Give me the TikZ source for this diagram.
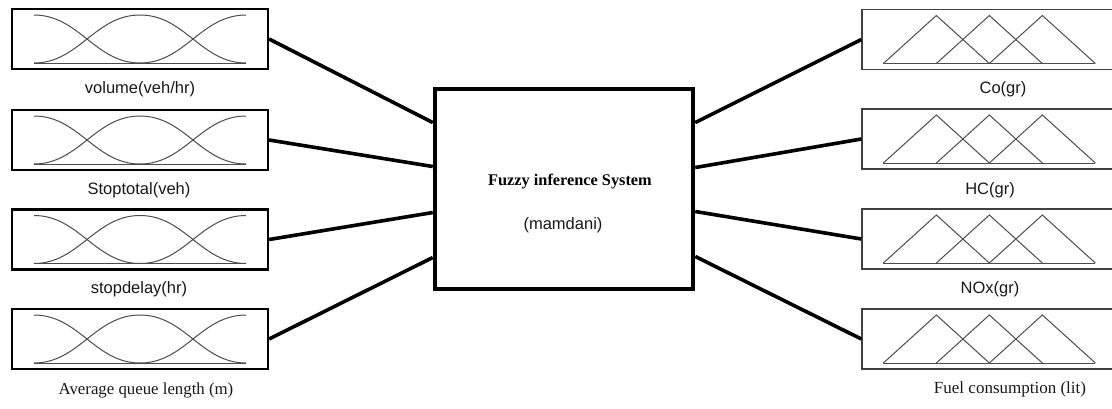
\documentclass[tikz,border=0pt]{standalone}
\usepackage{fontspec}
\setmainfont{Liberation Serif}
\setsansfont{Liberation Sans}
\usetikzlibrary{calc}

\tikzset{
  inbox/.style={draw=black, line width=2.2pt, minimum width=256pt, minimum height=60pt, inner sep=0pt},
  outbox/.style={draw=black!75, line width=1.3pt, minimum width=258pt, minimum height=60pt, inner sep=0pt},
  fisbox/.style={draw=black, line width=4.5pt, minimum width=258pt, minimum height=200pt, inner sep=0pt},
  link/.style={line width=3.6pt},
  mf/.style={draw=black!70, line width=1pt},
  sanslabel/.style={font=\sffamily\fontsize{16.5}{19}\selectfont, text=black!90, inner sep=0pt},
  seriflabel/.style={font=\rmfamily\fontsize{16.8}{19}\selectfont, text=black!90, inner sep=0pt}
}

% bell-shaped membership functions, drawn about the centre of an input box
\newcommand{\bellset}[1]{%
  \begin{scope}[shift={(#1.center)}]
    \draw[mf] (-106,-24) .. controls (-61,-24) and (-45,24) .. (0,24);
    \draw[mf] (-106,24) .. controls (-61,24) and (-45,-24) .. (0,-24)
                        .. controls (45,-24) and (61,24) .. (106,24);
    \draw[mf] (0,24) .. controls (45,24) and (61,-24) .. (106,-24);
    \draw[mf] (-106,24) -- (106,24);
  \end{scope}}

% triangular membership functions, drawn from the west side of an output box
\newcommand{\triset}[1]{%
  \begin{scope}[shift={(#1.west)}]
    \draw[mf] (22,24) -- (75,-24) -- (128,24);
    \draw[mf] (75,24) -- (128,-24) -- (181,24);
    \draw[mf] (128,24) -- (181,-24) -- (234,24);
    \draw[mf] (22,24) -- (234,24);
  \end{scope}}

\begin{document}
\begin{tikzpicture}[x=1pt, y=-1pt]
  \useasboundingbox (0,0) rectangle (1112,408);
  \clip (0,0) rectangle (1112,408);
  \fill[white] (0,0) rectangle (1112,408);

  % inference system
  \node[fisbox] (fis) at (564,189) {};
  \node[font=\rmfamily\bfseries\fontsize{16.3}{19}\selectfont, inner sep=0pt] (fistitle) at (570,182) {Fuzzy inference System};
  \node[sanslabel, font=\sffamily\fontsize{16.5}{19}\selectfont] (fistype) at (563,225) {(mamdani)};

  % inputs
  \node[inbox] (in1) at (140,39) {};
  \node[inbox] (in2) at (140,140) {};
  \node[inbox] (in3) at (140,239.5) {};
  \node[inbox] (in4) at (140,339) {};
  \bellset{in1}\bellset{in2}\bellset{in3}\bellset{in4}

  \node[sanslabel] (l1) at (140,89) {volume(veh/hr)};
  \node[sanslabel] (l2) at (139,190) {Stoptotal(veh)};
  \node[sanslabel] (l3) at (139,289) {stopdelay(hr)};
  \node[seriflabel] (l4) at (146,390) {Average queue length (m)};

  % outputs
  \node[outbox] (out1) at (991,39.5) {};
  \node[outbox] (out2) at (991,139) {};
  \node[outbox] (out3) at (991,239) {};
  \node[outbox] (out4) at (991,339) {};
  \triset{out1}\triset{out2}\triset{out3}\triset{out4}

  \node[sanslabel] (r1) at (1003,89) {Co(gr)};
  \node[sanslabel] (r2) at (990,190) {HC(gr)};
  \node[sanslabel] (r3) at (990,289) {NOx(gr)};
  \node[seriflabel, font=\rmfamily\fontsize{17}{19}\selectfont] (r4) at (1010,389) {Fuel consumption (lit)};

  % ports on the inference system
  \coordinate (pl1) at ($(fis.north west)!0.175!(fis.south west)$);
  \coordinate (pl2) at ($(fis.north west)!0.39!(fis.south west)$);
  \coordinate (pl3) at ($(fis.north west)!0.615!(fis.south west)$);
  \coordinate (pl4) at ($(fis.north west)!0.835!(fis.south west)$);
  \coordinate (pr1) at ($(fis.north east)!0.175!(fis.south east)$);
  \coordinate (pr2) at ($(fis.north east)!0.395!(fis.south east)$);
  \coordinate (pr3) at ($(fis.north east)!0.61!(fis.south east)$);
  \coordinate (pr4) at ($(fis.north east)!0.83!(fis.south east)$);

  % connectors
  \draw[link] (in1.east) -- (pl1);
  \draw[link] (in2.east) -- (pl2);
  \draw[link] (in3.east) -- (pl3);
  \draw[link] (in4.east) -- (pl4);
  \draw[link] (pr1) -- (out1.west);
  \draw[link] (pr2) -- (out2.west);
  \draw[link] (pr3) -- (out3.west);
  \draw[link] (pr4) -- (out4.west);
\end{tikzpicture}
\end{document}
